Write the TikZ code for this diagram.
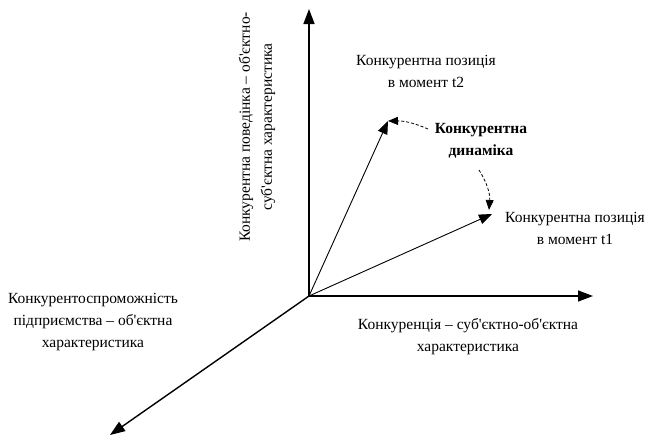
\documentclass[tikz,border=0pt]{standalone}
\usepackage{fontspec}
\setmainfont{Liberation Serif}[Ligatures=TeXOff]
\usetikzlibrary{arrows.meta}
\begin{document}
\begin{tikzpicture}[x=1pt,y=-1pt,
  axis/.style={line width=1.4pt,-{Triangle[length=15pt,width=11pt]}},
  vec/.style={line width=0.9pt,-{Triangle[length=13pt,width=10pt]}},
  dyn/.style={line width=0.8pt,dashed,dash pattern=on 3pt off 2pt,-{Triangle[length=10pt,width=8pt]}},
  lbl/.style={align=center,inner sep=0pt,font=\fontsize{15.5}{22}\selectfont},
  blbl/.style={lbl,font=\fontsize{15.5}{22}\selectfont\bfseries}]
\useasboundingbox (0,0) rectangle (667,434);
\coordinate (O) at (309,296);
\coordinate (Y) at (309,9);
\coordinate (X) at (593,296);
\coordinate (Z) at (110,435);
\coordinate (T2) at (388,121);
\coordinate (T1) at (492,214);
\draw[axis] (O) -- (Y);
\draw[axis] (O) -- (X);
\draw[axis] (O) -- (Z);
\draw[vec] (O) -- (T2);
\draw[vec] (O) -- (T1);
\node[lbl] (lt2) at (426,71) {Конкурентна позиція\\в момент t2};
\node[lbl] (lt1) at (575,228) {Конкурентна позиція\\в момент t1};
\node[blbl] (ldyn) at (481,141) {Конкурентна\\динаміка};
\node[lbl] (lx) at (468,337) {Конкуренція – суб'єктно-об'єктна\\характеристика};
\node[lbl] (lz) at (93,322) {Конкурентоспроможність\\підприємства – об'єктна\\характеристика};
\node[lbl,rotate=90] (ly) at (257,127) {Конкурентна поведінка – об'єктно-\\суб'єктна характеристика};
\coordinate (d2s) at (428,129);
\coordinate (d1s) at (479,170);
\coordinate (d1e) at (489,210);
\draw[dyn] (d2s) to[bend right=12] (T2);
\draw[dyn] (d1s) to[bend left=18] (d1e);
\end{tikzpicture}
\end{document}
